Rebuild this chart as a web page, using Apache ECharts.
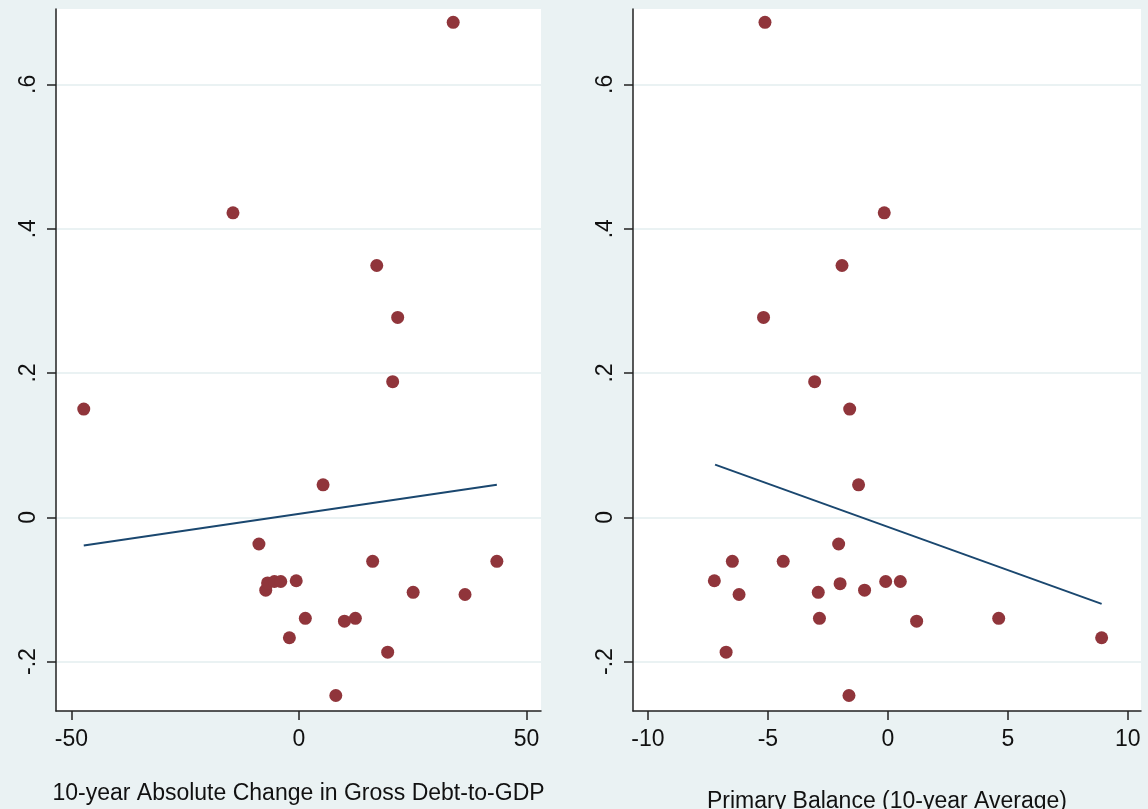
<!DOCTYPE html>
<html>
<head>
<meta charset="utf-8">
<script src="https://cdn.jsdelivr.net/npm/echarts@6/dist/echarts.min.js"></script>
<style>
  html, body { margin: 0; padding: 0; background: #eaf2f3; }
  #chart { width: 1148px; height: 809px; }
</style>
</head>
<body>
<div id="chart"></div>
<script>
// left panel: 10-year absolute change in gross debt-to-GDP
var debtChange = [33.9, -14.5, 17.1, 21.7, 20.6, -47.3, 5.3, -8.8, 16.2, 43.5,
  -7.3, -6.9, -5.4, -4.0, -0.6, 25.1, 36.5, 1.4, 10.0, 12.4, -2.1, 19.5, 8.1];
var debtY = [0.686, 0.422, 0.349, 0.277, 0.188, 0.150, 0.045, -0.037, -0.061, -0.061,
  -0.101, -0.091, -0.089, -0.089, -0.088, -0.104, -0.107, -0.140, -0.144, -0.140, -0.167, -0.187, -0.247];
var debtFitX = [-47.3, 43.5];
var debtFitY = [-0.039, 0.045];

// right panel: primary balance (10-year average)
var primBal = [-5.12, -0.15, -1.91, -5.18, -3.05, -1.59, -1.22, -2.05, -6.48, -4.36,
  -7.23, -1.99, -0.09, 0.52, -0.97, -6.2, -2.9, -2.85, 1.2, 4.62, 8.91, -6.74, -1.62];
var primY = [0.686, 0.422, 0.349, 0.277, 0.188, 0.150, 0.045, -0.037, -0.061, -0.061,
  -0.088, -0.092, -0.089, -0.089, -0.101, -0.107, -0.104, -0.140, -0.144, -0.140, -0.167, -0.187, -0.247];
var primFitX = [-7.2, 8.91];
var primFitY = [0.073, -0.120];

var yTicks = [-0.2, 0, 0.2, 0.4, 0.6];
var debtTicks = [-50, 0, 50];
var primTicks = [-10, -5, 0, 5, 10];

function pairs(xs, ys) {
  return xs.map(function (x, i) { return [x, ys[i]]; });
}

var font = 'Liberation Sans, Arial, sans-serif';
var dotColor = '#90353b';
var lineColor = '#1a476f';

function xAx(idx, min, max, ticks, name, gap) {
  return {
    type: 'value', gridIndex: idx, min: min, max: max,
    name: name, nameLocation: 'middle', nameGap: gap,
    nameTextStyle: { color: '#111', fontSize: 23, fontFamily: font },
    axisLine: { show: true, onZero: false, lineStyle: { color: '#222', width: 1.5 } },
    axisTick: { show: true, length: 9, customValues: ticks, lineStyle: { color: '#222', width: 1.5 } },
    axisLabel: { customValues: ticks, margin: 17, color: '#111', fontSize: 23, fontFamily: font,
      formatter: function (v) { return String(v); } },
    splitLine: { show: false }
  };
}

function yAx(idx) {
  return {
    type: 'value', gridIndex: idx, min: -0.2685, max: 0.7045,
    axisLine: { show: true, onZero: false, lineStyle: { color: '#222', width: 1.5 } },
    axisTick: { show: true, length: 9, customValues: yTicks, lineStyle: { color: '#222', width: 1.5 } },
    axisLabel: { customValues: yTicks, rotate: 90, margin: 16, color: '#111', fontSize: 23, fontFamily: font,
      formatter: function (v) {
        var s = String(Math.round(v * 10) / 10);
        return s.replace('0.', '.');
      } },
    splitLine: { show: true, lineStyle: { color: '#eaf2f3', width: 2 } }
  };
}

var chart = echarts.init(document.getElementById('chart'));
chart.setOption({
  backgroundColor: '#eaf2f3',
  animation: false,
  grid: [
    { left: 56, top: 9, width: 485, height: 702, show: true, backgroundColor: '#fff', borderWidth: 0,
      outerBoundsMode: 'none', containLabel: false },
    { left: 633, top: 9, width: 508, height: 702, show: true, backgroundColor: '#fff', borderWidth: 0,
      outerBoundsMode: 'none', containLabel: false }
  ],
  xAxis: [
    xAx(0, -53.4, 53.2, debtTicks, '10-year Absolute Change in Gross Debt-to-GDP', 71),
    xAx(1, -10.62, 10.55, primTicks, 'Primary Balance (10-year Average)', 79)
  ],
  yAxis: [yAx(0), yAx(1)],
  series: [
    { type: 'scatter', xAxisIndex: 0, yAxisIndex: 0, data: pairs(debtChange, debtY),
      symbolSize: 13, itemStyle: { color: dotColor, opacity: 1 } },
    { type: 'line', xAxisIndex: 0, yAxisIndex: 0, data: pairs(debtFitX, debtFitY),
      showSymbol: false, lineStyle: { color: lineColor, width: 2 } },
    { type: 'scatter', xAxisIndex: 1, yAxisIndex: 1, data: pairs(primBal, primY),
      symbolSize: 13, itemStyle: { color: dotColor, opacity: 1 } },
    { type: 'line', xAxisIndex: 1, yAxisIndex: 1, data: pairs(primFitX, primFitY),
      showSymbol: false, lineStyle: { color: lineColor, width: 2 } }
  ]
});
</script>
</body>
</html>
